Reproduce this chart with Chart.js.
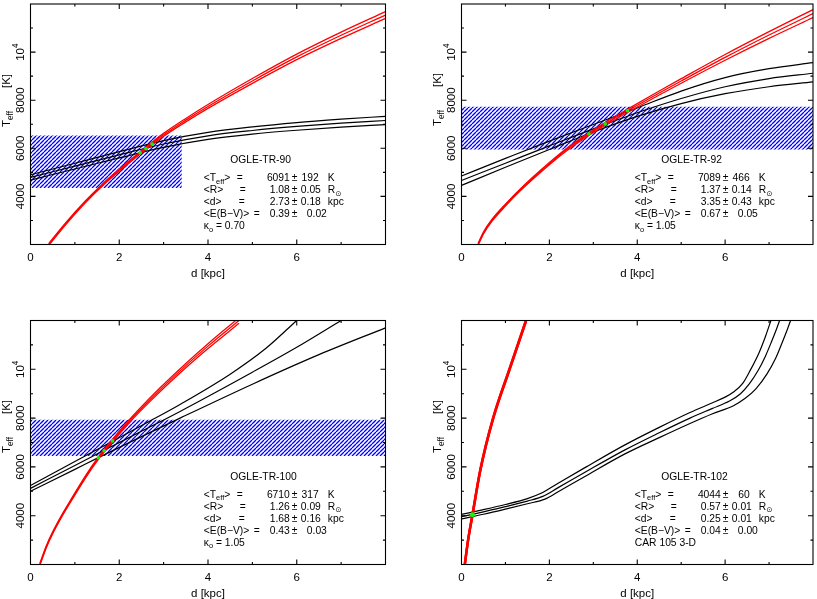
<!DOCTYPE html>
<html><head><meta charset="utf-8">
<script src="https://cdn.jsdelivr.net/npm/chart.js@4.4.1/dist/chart.umd.min.js"></script>
<style>
html,body{margin:0;padding:0;background:#fff;}
#wrap{position:relative;width:817px;height:599px;overflow:hidden;background:#fff;}
canvas{position:absolute;left:0;top:0;}
</style></head><body><div id="wrap">
<canvas id="c1" width="817" height="599"></canvas>
<canvas id="c2" width="817" height="599"></canvas>
<canvas id="c3" width="817" height="599"></canvas>
<canvas id="c4" width="817" height="599"></canvas>
</div>
<script>
// ---------- axes ----------
const X_RANGE = [0, 8];
const Y_RANGE = [2000, 12000];
const X_MAJOR = [2, 4, 6];
const X_MINOR = [1, 3, 5, 7];
const X_TICK_VALUES = [0, 2, 4, 6];
const X_TICK_LABELS = ['0', '2', '4', '6'];
const Y_MAJOR = [4000, 6000, 8000, 10000];
const Y_MINOR = [3000, 5000, 7000, 9000, 11000];
const Y_TICK_LABELS = ['4000', '6000', '8000', '10^4'];
const X_TITLE = 'd [kpc]';

// ---------- OGLE-TR-90 ----------
const P1_HATCH_D = [0, 3.41];
const P1_HATCH_T = [4350, 6530];
const P1_RED_D = [0.41, 0.8, 1.23, 1.6, 2.0, 2.5, 3.0, 3.5, 4.0, 5.0, 6.0, 7.0, 8.0];
const P1_RED_HI = [2040, 2920, 3800, 4480, 5135, 5900, 6620, 7240, 7820, 8900, 9915, 10830, 11680];
const P1_RED_MID = [2000, 2880, 3760, 4440, 5090, 5850, 6560, 7170, 7740, 8800, 9800, 10700, 11540];
const P1_RED_LO = [1960, 2840, 3720, 4400, 5045, 5800, 6500, 7100, 7660, 8700, 9685, 10570, 11400];
const P1_BLK_D = [0, 1, 2, 3, 4, 5, 6, 7, 8];
const P1_BLK_HI = [4900, 5380, 5860, 6320, 6660, 6890, 7070, 7210, 7330];
const P1_BLK_MID = [4790, 5260, 5730, 6180, 6520, 6740, 6910, 7045, 7155];
const P1_BLK_LO = [4680, 5140, 5600, 6040, 6370, 6590, 6750, 6880, 6985];
const P1_DOT_D = [2.47, 2.6, 2.74];
const P1_DOT_T = [5810, 5990, 6180];

// ---------- OGLE-TR-92 ----------
const P2_HATCH_D = [0, 8];
const P2_HATCH_T = [5950, 7725];
const P2_RED_D = [0.376, 0.5, 0.7, 1.0, 1.32, 2.0, 2.44, 2.95, 3.31, 3.81, 4.5, 5.0, 6.0, 7.0, 8.0];
const P2_RED_HI = [2040, 2520, 3060, 3680, 4280, 5405, 6060, 6705, 7120, 7660, 8385, 8895, 9900, 10850, 11765];
const P2_RED_MID = [2000, 2480, 3020, 3640, 4240, 5360, 6010, 6650, 7060, 7590, 8300, 8800, 9780, 10710, 11600];
const P2_RED_LO = [1960, 2440, 2980, 3600, 4200, 5315, 5960, 6595, 7000, 7520, 8215, 8705, 9660, 10570, 11435];
const P2_BLK_D = [0, 1, 2, 3, 4, 5, 6, 7, 8];
const P2_BLK_HI = [4850, 5580, 6300, 6990, 7680, 8380, 8940, 9310, 9560];
const P2_BLK_MID = [4660, 5380, 6100, 6810, 7480, 8070, 8560, 8900, 9120];
const P2_BLK_LO = [4460, 5210, 5950, 6680, 7330, 7860, 8270, 8560, 8760];
const P2_DOT_D = [2.9, 3.27, 3.78];
const P2_DOT_T = [6600, 7015, 7560];

// ---------- OGLE-TR-100 ----------
const P3_HATCH_D = [0, 8];
const P3_HATCH_T = [6450, 7930];
const P3_RED_D = [0.21, 0.35, 0.5, 0.7, 0.89, 1.26, 1.53, 1.85, 2.2, 2.69, 3.5, 4.0, 4.7];
const P3_RED_HI = [2040, 2740, 3340, 4020, 4600, 5695, 6410, 7135, 7880, 8830, 10240, 11050, 12115];
const P3_RED_MID = [2000, 2700, 3300, 3980, 4560, 5650, 6360, 7080, 7820, 8753, 10150, 10950, 12000];
const P3_RED_LO = [1960, 2660, 3260, 3940, 4520, 5605, 6310, 7025, 7760, 8676, 10060, 10850, 11885];
const P3_BLK_HI_D = [0, 1.0, 1.85, 2.6, 3.37, 4.5, 5.3, 6.0];
const P3_BLK_HI = [5240, 6220, 7050, 7790, 8560, 9800, 10850, 12000];
const P3_BLK_MID_D = [0, 1.0, 1.66, 2.5, 3.37, 5.0, 6.0, 7.0];
const P3_BLK_MID = [5120, 6060, 6680, 7460, 8274, 9880, 10900, 12000];
const P3_BLK_LO_D = [0, 1.0, 1.53, 2.5, 3.37, 5.0, 6.5, 8.0];
const P3_BLK_LO = [5000, 5900, 6380, 7240, 8000, 9390, 10600, 11700];
const P3_DOT_D = [1.53, 1.66, 1.85];
const P3_DOT_T = [6370, 6660, 7065];

// ---------- OGLE-TR-102 ----------
const P4_RED_D = [0.075, 0.15, 0.25, 0.43, 0.71, 1.09, 1.47];
const P4_RED_HI = [2030, 3030, 4070, 5910, 7960, 10020, 12030];
const P4_RED_MID = [2000, 3000, 4040, 5880, 7930, 9990, 12000];
const P4_RED_LO = [1970, 2970, 4010, 5850, 7900, 9960, 11970];
const P4_BLK_HI_D = [0, 0.5, 1.0, 1.5, 1.81, 2.2, 2.8, 3.72, 4.5, 5.2, 5.7, 6.0, 6.2, 6.4, 6.58, 6.77, 6.92, 7.05];
const P4_BLK_HI = [4054, 4250, 4460, 4700, 4917, 5330, 5960, 6903, 7620, 8230, 8620, 8860, 9080, 9420, 9986, 10672, 11357, 12041];
const P4_BLK_MID_D = [0, 0.5, 1.0, 1.5, 1.85, 2.2, 2.8, 3.72, 4.5, 5.2, 5.7, 6.1, 6.35, 6.55, 6.75, 6.92, 7.06, 7.17, 7.25];
const P4_BLK_MID = [3960, 4160, 4370, 4600, 4790, 5150, 5770, 6698, 7400, 8000, 8390, 8700, 9000, 9400, 9950, 10550, 11150, 11650, 12050];
const P4_BLK_LO_D = [0, 0.5, 1.0, 1.5, 1.9, 2.2, 2.8, 3.72, 4.5, 5.2, 5.7, 6.2, 6.45, 6.7, 6.95, 7.15, 7.3, 7.42, 7.5];
const P4_BLK_LO = [3870, 4060, 4270, 4490, 4680, 4980, 5600, 6533, 7200, 7780, 8170, 8520, 8800, 9200, 9800, 10450, 11100, 11650, 12050];
const P4_DOT_D = [0.25];
const P4_DOT_T = [4040];

// ---------- texts ----------
const NAMES = ['OGLE-TR-90', 'OGLE-TR-92', 'OGLE-TR-100', 'OGLE-TR-102'];
const TEFF = [['6091', '192'], ['7089', '466'], ['6710', '317'], ['4044', '60']];
const RAD = [['1.08', '0.05'], ['1.37', '0.14'], ['1.26', '0.09'], ['0.57', '0.01']];
const DIST = [['2.73', '0.18'], ['3.35', '0.43'], ['1.68', '0.16'], ['0.25', '0.01']];
const EBV = [['0.39', '0.02'], ['0.67', '0.05'], ['0.43', '0.03'], ['0.04', '0.00']];
const LAST = [
  [['κ', 0], ['o', 1], [' = 0.70', 0]],
  [['κ', 0], ['o', 1], [' = 1.05', 0]],
  [['κ', 0], ['o', 1], [' = 1.05', 0]],
  [['CAR 105 3-D', 0]]
];

// ---------- layout (positions / styles) ----------
const AREAS = [
  {l: 30.5, r: 385.5, t: 0.5, b: 244.5, ytStart: 127},
  {l: 461.5, r: 816.5, t: 0.5, b: 244.5, ytStart: 126},
  {l: 30.5, r: 385.5, t: 320.5, b: 564.5, ytStart: 453},
  {l: 461.5, r: 816.5, t: 320.5, b: 564.5, ytStart: 453}
];
const FONT = '"Liberation Sans", Arial, "DejaVu Sans", sans-serif';
const RED = '#ff0000', BLUE = '#0000ff', GREEN = '#00ff00';

function pts(ds, ts) { return ds.map((d, i) => ({x: d, y: ts[i]})); }

function rich(ctx, parts, x, y, size, align) {
  const sub = size * 0.72;
  let w = 0;
  const ws = parts.map(p => {
    ctx.font = (p[1] ? sub : size) + 'px ' + FONT;
    const m = ctx.measureText(p[0]).width; w += m; return m;
  });
  let cx = x;
  if (align === 'center') cx = x - w / 2;
  else if (align === 'right') cx = x - w;
  ctx.textAlign = 'left';
  parts.forEach((p, i) => {
    ctx.font = (p[1] ? sub : size) + 'px ' + FONT;
    const dy = p[1] === 1 ? size * 0.32 : (p[1] === 2 ? -size * 0.42 : 0);
    ctx.fillText(p[0], cx, y + dy);
    cx += ws[i];
  });
}
function txt(ctx, s, x, y, size, align) {
  ctx.font = size + 'px ' + FONT;
  ctx.textAlign = align || 'left';
  ctx.fillText(s, x, y);
}

const framePlugin = {
  id: 'frame',
  afterDraw(chart, args, opts) {
    const ctx = chart.ctx, a = chart.chartArea, xs = chart.scales.x, ys = chart.scales.y;
    const k = opts.k;
    ctx.save();
    ctx.strokeStyle = '#000'; ctx.lineWidth = 1.1;
    ctx.strokeRect(a.left, a.top, a.right - a.left, a.bottom - a.top);
    ctx.beginPath();
    const tx = (vals, len) => vals.forEach(v => {
      const p = xs.getPixelForValue(v);
      ctx.moveTo(p, a.bottom); ctx.lineTo(p, a.bottom - len);
      ctx.moveTo(p, a.top); ctx.lineTo(p, a.top + len);
    });
    const ty = (vals, len) => vals.forEach(v => {
      const p = ys.getPixelForValue(v);
      ctx.moveTo(a.left, p); ctx.lineTo(a.left + len, p);
      ctx.moveTo(a.right, p); ctx.lineTo(a.right - len, p);
    });
    tx(X_MAJOR, 5); tx(X_MINOR, 2.5); ty(Y_MAJOR, 5); ty(Y_MINOR, 2.5);
    ctx.stroke();

    ctx.fillStyle = '#000';
    ctx.textBaseline = 'middle';
    X_TICK_VALUES.forEach((v, i) => txt(ctx, X_TICK_LABELS[i], xs.getPixelForValue(v), a.bottom + 13, 11.5, 'center'));
    txt(ctx, X_TITLE, (a.left + a.right) / 2, a.bottom + 29, 11.5, 'center');
    Y_MAJOR.forEach((v, i) => {
      const p = ys.getPixelForValue(v);
      ctx.save(); ctx.translate(a.left - 10, p); ctx.rotate(-Math.PI / 2);
      const lab = Y_TICK_LABELS[i];
      if (lab.indexOf('^') >= 0) {
        const sp = lab.split('^');
        rich(ctx, [[sp[0], 0], [sp[1], 2]], 0, 0, 11.5, 'center');
      } else {
        txt(ctx, lab, 0, 0, 11.5, 'center');
      }
      ctx.restore();
    });
    // y title: T_eff ... [K]
    ctx.save(); ctx.translate(a.left - 23.4, AREAS[k].ytStart); ctx.rotate(-Math.PI / 2);
    rich(ctx, [['T', 0], ['eff', 1]], 0, 0, 11.5, 'left');
    txt(ctx, '[K]', 39, 0, 11.5, 'left');
    ctx.restore();

    // text block
    const bx = a.left + 173.3, by = a.top;
    const s = 10.3;
    txt(ctx, NAMES[k], bx + 26.5, by + 156.5, s, 'left');
    let y = by + 174.5;
    rich(ctx, [['<T', 0], ['eff', 1], ['>', 0]], bx, y, s, 'left');
    txt(ctx, '=', bx + 33, y, s);
    txt(ctx, TEFF[k][0], bx + 86, y, s, 'right');
    txt(ctx, '±', bx + 88, y, s);
    txt(ctx, TEFF[k][1], bx + 115, y, s, 'right');
    txt(ctx, 'K', bx + 124, y, s);
    y = by + 186.5;
    txt(ctx, '<R>', bx, y, s);
    txt(ctx, '=', bx + 36, y, s);
    txt(ctx, RAD[k][0], bx + 86, y, s, 'right');
    txt(ctx, '±', bx + 88, y, s);
    txt(ctx, RAD[k][1], bx + 97, y, s);
    rich(ctx, [['R', 0], ['⊙', 1]], bx + 124, y, s, 'left');
    y = by + 198.3;
    txt(ctx, '<d>', bx, y, s);
    txt(ctx, '=', bx + 35, y, s);
    txt(ctx, DIST[k][0], bx + 86, y, s, 'right');
    txt(ctx, '±', bx + 88, y, s);
    txt(ctx, DIST[k][1], bx + 97, y, s);
    txt(ctx, 'kpc', bx + 124, y, s);
    y = by + 210.2;
    txt(ctx, '<E(B−V)>', bx, y, s);
    txt(ctx, '=', bx + 50, y, s);
    txt(ctx, EBV[k][0], bx + 86, y, s, 'right');
    txt(ctx, '±', bx + 88, y, s);
    txt(ctx, EBV[k][1], bx + 103, y, s);
    y = by + 222.3;
    rich(ctx, LAST[k], bx, y, s, 'left');
    ctx.restore();
  }
};

function hatchPattern() {
  const c = document.createElement('canvas');
  c.width = 4; c.height = 4;
  const g = c.getContext('2d');
  g.strokeStyle = BLUE; g.lineWidth = 1.3;
  g.beginPath();
  [-4, 0, 4].forEach(k => { g.moveTo(k, 4); g.lineTo(k + 4, 0); });
  g.stroke();
  return document.getElementById('c1').getContext('2d').createPattern(c, 'repeat');
}
const PATTERN = hatchPattern();

function lineDS(data, color, width, order) {
  return {data, borderColor: color, borderWidth: width, pointRadius: 0, fill: false,
          cubicInterpolationMode: 'monotone', order};
}

function makePanel(k, p) {
  const ds = [];
  ds.push({data: pts(p.dotD, p.dotT), showLine: false, pointRadius: p.dotR, pointBackgroundColor: GREEN,
           pointBorderWidth: 0, pointBorderColor: GREEN, order: 0});
  ds.push(lineDS(pts(p.redD, p.redHi), RED, p.redW, 1));
  ds.push(lineDS(pts(p.redD, p.redMid), RED, p.redW, 1));
  ds.push(lineDS(pts(p.redD, p.redLo), RED, p.redW, 1));
  ds.push(lineDS(pts(p.hiD, p.hi), '#000', 1.2, 2));
  ds.push(lineDS(pts(p.midD, p.mid), '#000', 1.2, 2));
  ds.push(lineDS(pts(p.loD, p.lo), '#000', 1.2, 2));
  if (p.hatchD) {
    ds.push({data: [{x: p.hatchD[0], y: p.hatchT[1]}, {x: p.hatchD[1], y: p.hatchT[1]}],
             borderColor: 'rgba(0,0,0,0)', borderWidth: 0, pointRadius: 0, tension: 0,
             fill: {value: p.hatchT[0]}, backgroundColor: PATTERN, order: 3});
  }
  const A = AREAS[k];
  new Chart(document.getElementById('c' + (k + 1)), {
    type: 'line',
    data: {datasets: ds},
    options: {
      responsive: false, animation: false, events: [],
      layout: {padding: {left: A.l, top: A.t, right: 817 - A.r, bottom: 599 - A.b}},
      scales: {
        x: {type: 'linear', min: X_RANGE[0], max: X_RANGE[1], display: false},
        y: {type: 'linear', min: Y_RANGE[0], max: Y_RANGE[1], display: false}
      },
      plugins: {legend: {display: false}, tooltip: {enabled: false}, frame: {k}}
    },
    plugins: [framePlugin]
  });
}

makePanel(0, {hatchD: P1_HATCH_D, hatchT: P1_HATCH_T, redD: P1_RED_D, redHi: P1_RED_HI, redMid: P1_RED_MID, redLo: P1_RED_LO, redW: 1.3,
  hiD: P1_BLK_D, hi: P1_BLK_HI, midD: P1_BLK_D, mid: P1_BLK_MID, loD: P1_BLK_D, lo: P1_BLK_LO, dotD: P1_DOT_D, dotT: P1_DOT_T, dotR: 1.8});
makePanel(1, {hatchD: P2_HATCH_D, hatchT: P2_HATCH_T, redD: P2_RED_D, redHi: P2_RED_HI, redMid: P2_RED_MID, redLo: P2_RED_LO, redW: 1.3,
  hiD: P2_BLK_D, hi: P2_BLK_HI, midD: P2_BLK_D, mid: P2_BLK_MID, loD: P2_BLK_D, lo: P2_BLK_LO, dotD: P2_DOT_D, dotT: P2_DOT_T, dotR: 1.8});
makePanel(2, {hatchD: P3_HATCH_D, hatchT: P3_HATCH_T, redD: P3_RED_D, redHi: P3_RED_HI, redMid: P3_RED_MID, redLo: P3_RED_LO, redW: 1.3,
  hiD: P3_BLK_HI_D, hi: P3_BLK_HI, midD: P3_BLK_MID_D, mid: P3_BLK_MID, loD: P3_BLK_LO_D, lo: P3_BLK_LO, dotD: P3_DOT_D, dotT: P3_DOT_T, dotR: 1.8});
makePanel(3, {hatchD: null, hatchT: null, redD: P4_RED_D, redHi: P4_RED_HI, redMid: P4_RED_MID, redLo: P4_RED_LO, redW: 2.4,
  hiD: P4_BLK_HI_D, hi: P4_BLK_HI, midD: P4_BLK_MID_D, mid: P4_BLK_MID, loD: P4_BLK_LO_D, lo: P4_BLK_LO, dotD: P4_DOT_D, dotT: P4_DOT_T, dotR: 2.4});
</script>
</body></html>
